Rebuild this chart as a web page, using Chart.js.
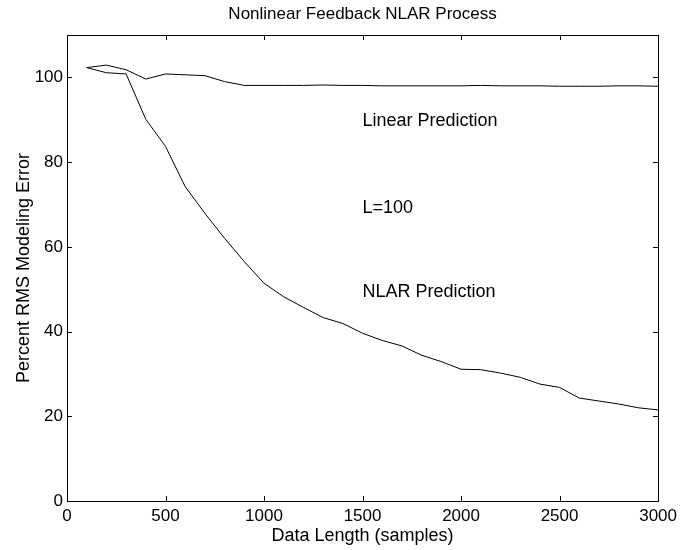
<!DOCTYPE html>
<html><head><meta charset="utf-8">
<script src="https://cdn.jsdelivr.net/npm/chart.js@4/dist/chart.umd.min.js"></script>
<style>html,body{margin:0;padding:0;background:#fff}#wrap{width:682px;height:550px}canvas{display:block}</style>
</head><body><div id="wrap"><canvas id="c" width="682" height="550"></canvas></div>
<script>
// ---- data ----
const dataLength = [100,200,300,400,500,600,700,800,900,1000,1100,1200,1300,1400,1500,1600,1700,1800,1900,2000,2100,2200,2300,2400,2500,2600,2700,2800,2900,3000];
const linearError = [102.3,102.9,101.8,99.6,100.8,100.6,100.4,99.0,98.1,98.1,98.1,98.1,98.2,98.1,98.1,98.0,98.0,98.0,98.0,98.0,98.1,98.0,98.0,98.0,97.9,97.9,97.9,98.0,98.0,97.9];
const nlarError = [102.3,101.1,100.8,90.1,83.7,74.2,67.9,62.0,56.5,51.4,48.2,45.7,43.3,41.9,39.6,37.9,36.6,34.4,32.9,31.1,31.0,30.2,29.2,27.6,26.8,24.3,23.6,22.9,22.0,21.5];
const xTickValues = [0,500,1000,1500,2000,2500,3000];
const yTickValues = [0,20,40,60,80,100];
const noteTexts = ['Linear Prediction','L=100','NLAR Prediction'];
const noteX = [1500,1500,1500];
const noteY = [89.7,69.2,49.3];
const titleText = 'Nonlinear Feedback NLAR Process';
const xTitle = 'Data Length (samples)';
const yTitle = 'Percent RMS Modeling Error';

const FONT = "'Liberation Sans', Arial, Helvetica, sans-serif";
Chart.defaults.font.family = FONT;
Chart.defaults.color = '#000';

const toPts = (xs, ys) => xs.map((x, i) => ({x: x, y: ys[i]}));

const framePlugin = {
  id: 'frame',
  afterDraw(chart) {
    const ctx = chart.ctx, a = chart.chartArea;
    const xs = chart.scales.x, ys = chart.scales.y;
    ctx.save();
    ctx.strokeStyle = '#000';
    ctx.lineWidth = 1;
    ctx.strokeRect(Math.round(a.left) + 0.5, Math.round(a.top) + 0.5, Math.round(a.right - a.left), Math.round(a.bottom - a.top));
    const tl = 5;
    ctx.beginPath();
    xTickValues.forEach(v => {
      const px = Math.round(xs.getPixelForValue(v)) + 0.5;
      ctx.moveTo(px, a.bottom); ctx.lineTo(px, a.bottom - tl);
      ctx.moveTo(px, a.top); ctx.lineTo(px, a.top + tl);
    });
    yTickValues.forEach(v => {
      const py = Math.round(ys.getPixelForValue(v)) + 0.5;
      ctx.moveTo(a.left, py); ctx.lineTo(a.left + tl, py);
      ctx.moveTo(a.right, py); ctx.lineTo(a.right - tl, py);
    });
    ctx.stroke();
    // title
    ctx.fillStyle = '#000';
    ctx.textAlign = 'center';
    ctx.textBaseline = 'middle';
    ctx.font = '17px ' + FONT;
    ctx.fillText(titleText, (a.left + a.right) / 2, 14);
    // annotations
    ctx.textAlign = 'left';
    ctx.font = '18px ' + FONT;
    noteTexts.forEach((t, i) => {
      ctx.fillText(t, xs.getPixelForValue(noteX[i]), ys.getPixelForValue(noteY[i]));
    });
    ctx.restore();
  }
};

new Chart(document.getElementById('c'), {
  type: 'line',
  data: {
    datasets: [
      {label: 'Linear Prediction', data: toPts(dataLength, linearError), borderColor: '#000', borderWidth: 1, pointRadius: 0, fill: false, tension: 0},
      {label: 'NLAR Prediction', data: toPts(dataLength, nlarError), borderColor: '#000', borderWidth: 1, pointRadius: 0, fill: false, tension: 0}
    ]
  },
  options: {
    responsive: false,
    devicePixelRatio: 1,
    animation: false,
    layout: {autoPadding: false, padding: {left: 0, right: 19, top: 35, bottom: 0}},
    plugins: {legend: {display: false}, tooltip: {enabled: false}, title: {display: false}},
    scales: {
      x: {
        type: 'linear', min: 0, max: 3000,
        afterBuildTicks: s => { s.ticks = xTickValues.map(v => ({value: v})); },
        ticks: {font: {size: 17}, color: '#000', padding: 5, maxRotation: 0, autoSkip: false, callback: v => String(v)},
        grid: {display: false, drawTicks: false},
        border: {display: false},
        title: {display: true, text: xTitle, font: {size: 18}, color: '#000', padding: {top: 0, bottom: 3}},
        afterFit: s => { s.height = 49; }
      },
      y: {
        type: 'linear', min: 0, max: 110,
        afterBuildTicks: s => { s.ticks = yTickValues.map(v => ({value: v})); },
        ticks: {font: {size: 17}, color: '#000', padding: 4, callback: v => String(v)},
        grid: {display: false, drawTicks: false},
        border: {display: false},
        title: {display: true, text: yTitle, font: {size: 18}, color: '#000', padding: {top: 13, bottom: 0}},
        afterFit: s => { s.width = 67; }
      }
    }
  },
  plugins: [framePlugin]
});
</script>
</body></html>
